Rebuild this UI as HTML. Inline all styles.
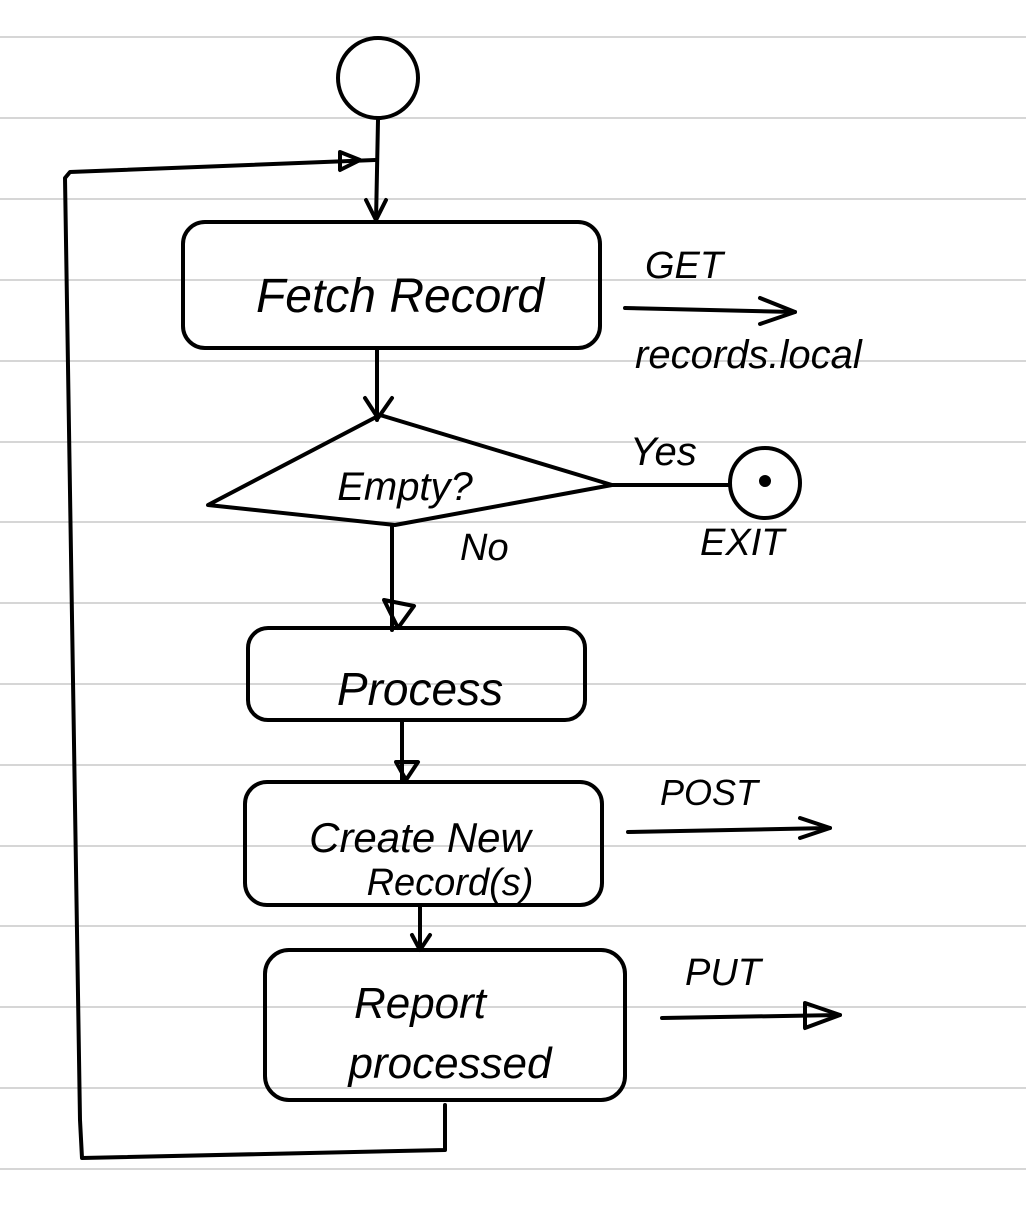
<!DOCTYPE html>
<html><head><meta charset="utf-8"><style>
html,body{margin:0;padding:0;background:#fff;}
svg{display:block;}
text{font-family:"Liberation Sans",sans-serif;font-style:italic;fill:#000;}
</style></head><body>
<svg width="1026" height="1226" viewBox="0 0 1026 1226" xmlns="http://www.w3.org/2000/svg">
<g stroke="#c8c8c8" stroke-width="1.5">
<line x1="0" y1="37" x2="1026" y2="37"/><line x1="0" y1="118" x2="1026" y2="118"/>
<line x1="0" y1="199" x2="1026" y2="199"/><line x1="0" y1="280" x2="1026" y2="280"/>
<line x1="0" y1="361" x2="1026" y2="361"/><line x1="0" y1="442" x2="1026" y2="442"/>
<line x1="0" y1="522" x2="1026" y2="522"/><line x1="0" y1="603" x2="1026" y2="603"/>
<line x1="0" y1="684" x2="1026" y2="684"/><line x1="0" y1="765" x2="1026" y2="765"/>
<line x1="0" y1="846" x2="1026" y2="846"/><line x1="0" y1="926" x2="1026" y2="926"/>
<line x1="0" y1="1007" x2="1026" y2="1007"/><line x1="0" y1="1088" x2="1026" y2="1088"/>
<line x1="0" y1="1169" x2="1026" y2="1169"/>
</g>
<g stroke="#000" stroke-width="4" fill="none" stroke-linecap="round" stroke-linejoin="round">
<circle cx="378" cy="78" r="40"/>
<path d="M378 120 L376 222"/><path d="M366 200 L376 220 L386 200"/>
<path d="M445 1105 L445 1150 L82 1158 L80 1120 L65 178 L70 172 L375 160"/>
<path d="M340 152 L360 160 L340 170 Z"/>
<rect x="183" y="222" width="417" height="126" rx="22"/>
<path d="M625 308 L795 312"/><path d="M760 298 L795 312 L760 324"/>
<path d="M377 348 L377 420"/><path d="M365 398 L378 418 L392 398"/>
<path d="M380 415 L612 485 L395 525 L208 505 Z"/>
<path d="M612 485 L730 485"/>
<circle cx="765" cy="483" r="35"/><circle cx="765" cy="481" r="4" fill="#000"/>
<path d="M392 527 L392 630"/><path d="M384 600 L398 628 L414 606 Z"/>
<rect x="248" y="628" width="337" height="92" rx="20"/>
<path d="M402 720 L402 780"/><path d="M396 762 L406 780 L418 762 Z"/>
<rect x="245" y="782" width="357" height="123" rx="22"/>
<path d="M628 832 L830 828"/><path d="M800 818 L830 828 L800 838"/>
<path d="M420 905 L420 950"/><path d="M412 935 L420 950 L430 935"/>
<rect x="265" y="950" width="360" height="150" rx="24"/>
<path d="M662 1018 L840 1015"/><path d="M805 1003 L840 1015 L805 1028 Z"/>
</g>
<text x="400" y="312" font-size="48" text-anchor="middle">Fetch Record</text>
<text x="645" y="278" font-size="38">GET</text>
<text x="635" y="368" font-size="40">records.local</text>
<text x="405" y="500" font-size="40" text-anchor="middle">Empty?</text>
<text x="630" y="465" font-size="40">Yes</text>
<text x="700" y="555" font-size="38">EXIT</text>
<text x="460" y="560" font-size="38">No</text>
<text x="420" y="705" font-size="46" text-anchor="middle">Process</text>
<text x="420" y="852" font-size="42" text-anchor="middle">Create New</text>
<text x="450" y="895" font-size="38" text-anchor="middle">Record(s)</text>
<text x="660" y="805" font-size="36">POST</text>
<text x="420" y="1018" font-size="44" text-anchor="middle">Report</text>
<text x="450" y="1078" font-size="44" text-anchor="middle">processed</text>
<text x="685" y="985" font-size="38">PUT</text>
</svg>
</body></html>
